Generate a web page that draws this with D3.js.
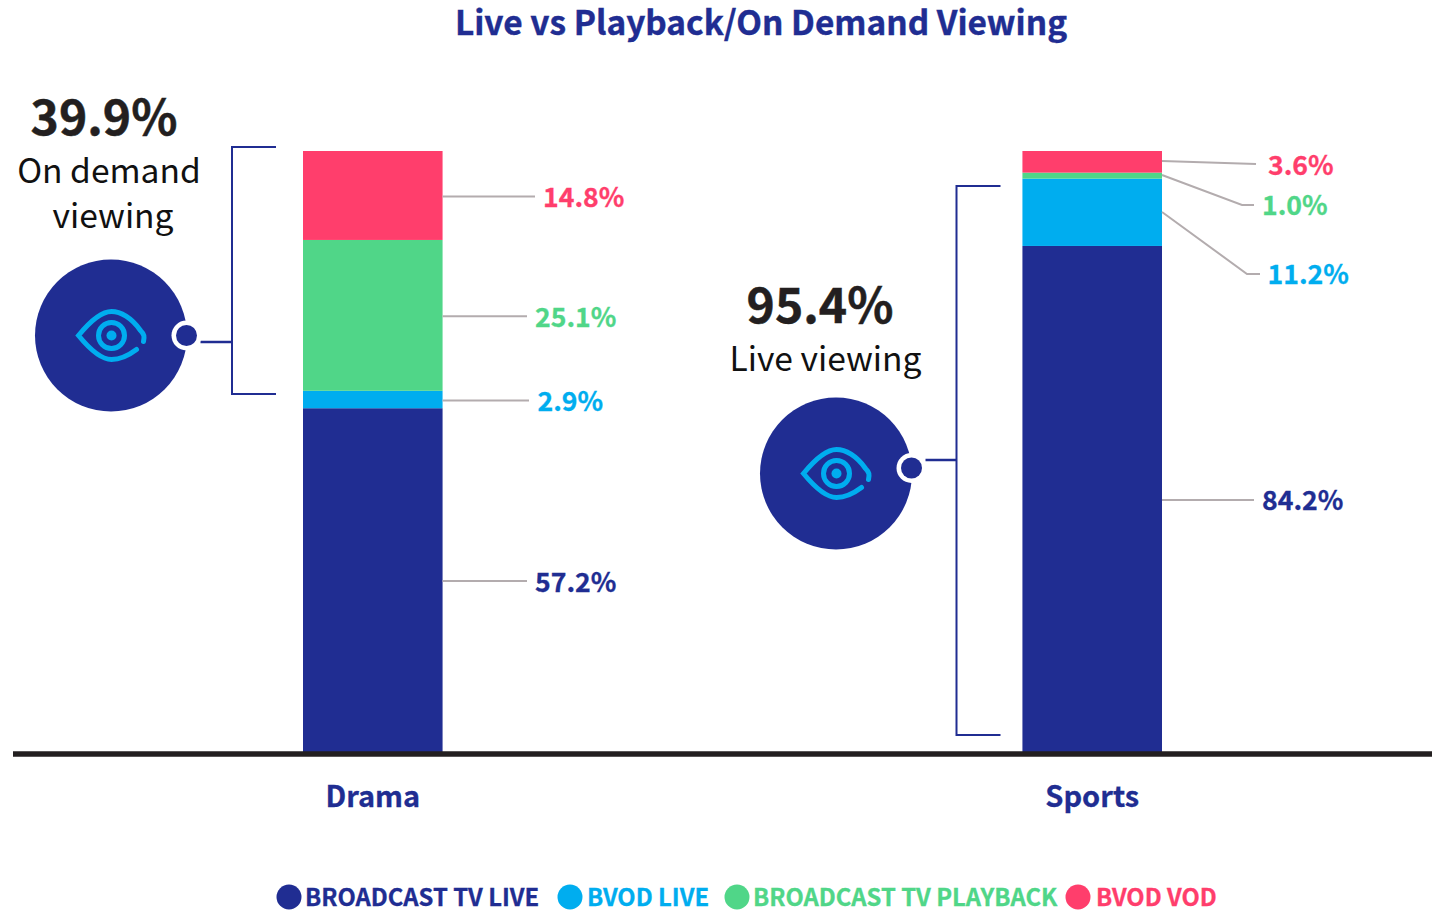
<!DOCTYPE html>
<html><head><meta charset="utf-8">
<script src="https://cdnjs.cloudflare.com/ajax/libs/d3/7.8.5/d3.min.js"></script>
<style>html,body{margin:0;padding:0;background:#fff}svg{display:block}text{font-family:"Noto Sans CJK SC","Noto Sans",sans-serif}</style>
</head><body><svg id="c" width="1432" height="910"></svg>
<script>
const categories = ["Drama","Sports"];
const seriesNames = ["BROADCAST TV LIVE","BVOD LIVE","BROADCAST TV PLAYBACK","BVOD VOD"];
const seriesColors = ["#202d92","#00adef","#50d688","#ff3e6c"];
const dramaValues = [57.2,2.9,25.1,14.8];
const sportsValues = [84.2,11.2,1.0,3.6];
const titleText = "Live vs Playback/On Demand Viewing";

const svg = d3.select("#c");
const navy = seriesColors[0];
const rows = categories.map((c,i)=>{
  const r = {category:c};
  const vals = i===0?dramaValues:sportsValues;
  seriesNames.forEach((s,j)=>r[s]=vals[j]);
  return r;
});
const x = d3.scaleBand().domain(categories).range([303,1162]).paddingInner(0.806).paddingOuter(0);
const y = d3.scaleLinear().domain([0,100]).range([752,151]);
const stacked = d3.stack().keys(seriesNames)(rows);

svg.append("text").attr("x",761).attr("y",35).attr("text-anchor","middle")
  .attr("font-size",33.4).attr("font-weight",700).attr("fill",navy).attr("stroke",navy).attr("stroke-width",0.4).text(titleText);

stacked.forEach((layer,j)=>{
  svg.append("g").selectAll("rect").data(layer).join("rect")
    .attr("x",d=>x(d.data.category)).attr("width",x.bandwidth())
    .attr("y",d=>y(d[1])).attr("height",d=>y(d[0])-y(d[1]))
    .attr("fill",seriesColors[j]);
});

const axis = d3.axisBottom(x).tickSize(0).tickPadding(32);
const axG = svg.append("g").attr("transform","translate(0,754)").call(axis);
axG.select(".domain").attr("d","M13,0H1432").attr("stroke","#231f20").attr("stroke-width",5.5);
axG.selectAll("text").attr("font-size",29).attr("font-weight",700).attr("fill",navy)
  .attr("stroke",navy).attr("stroke-width",0.3).attr("font-family",'"Noto Sans CJK SC"');

const leaderLayout = {
  Drama:[
    {end:527,lx:535},{end:529,lx:537.5},{end:527,lx:535},{end:535,lx:543}],
  Sports:[
    {end:1254,lx:1262},
    {sy:212,bend:[1247,274],end:1260,ey:274,lx:1267.5,ly:274},
    {sy:175,bend:[1242,205],end:1254,ey:205,lx:1262,ly:205},
    {sy:161,end:1256,ey:164,lx:1268,ly:165}]
};
const line = d3.line();
rows.forEach((r,ri)=>{
  const x1 = x(r.category)+x.bandwidth();
  stacked.forEach((layer,j)=>{
    const d = layer[ri];
    const mid = y((d[0]+d[1])/2)+1;
    const L = leaderLayout[r.category][j];
    const sy = L.sy ?? mid, ey = L.ey ?? mid;
    const pts = [[x1,sy]];
    if(L.bend) pts.push(L.bend);
    pts.push([L.end,ey]);
    svg.append("path").attr("d",line(pts)).attr("fill","none").attr("stroke","#b3acae").attr("stroke-width",2);
    svg.append("text").attr("x",L.lx).attr("y",(L.ly ?? mid+1)+9.5)
      .attr("font-size",26.6).attr("font-weight",700).attr("fill",seriesColors[j])
      .attr("stroke",seriesColors[j]).attr("stroke-width",0.3)
      .text(d3.format(".1f")(r[seriesNames[j]])+"%");
  });
});

function callout(o){
  svg.append("path").attr("d",`M${o.bx+44},${o.by0}H${o.bx}V${o.by1}H${o.bx+44}`)
    .attr("fill","none").attr("stroke",navy).attr("stroke-width",2);
  svg.append("path").attr("d",`M${o.dx+14},${o.cy0}H${o.bx}`).attr("stroke",navy).attr("stroke-width",2.5);
  svg.append("circle").attr("cx",o.cx).attr("cy",o.cy).attr("r",76).attr("fill",navy);
  svg.append("circle").attr("cx",o.dx).attr("cy",o.dy).attr("r",15).attr("fill","#fff");
  svg.append("circle").attr("cx",o.dx).attr("cy",o.dy).attr("r",10.5).attr("fill",navy);
  const g = svg.append("g").attr("transform",`translate(${o.cx+0.5},${o.cy})`);
  g.append("path").attr("d","M32,6C33,1 33,-1 29,-5C20,-18 9,-24 0,-24C-12,-24 -24,-11 -33,0C-24,11 -12,24 0,24C9,24 17,20 25,14")
    .attr("fill","none").attr("stroke","#00adef").attr("stroke-width",5).attr("stroke-linecap","round");
  g.append("circle").attr("r",13).attr("fill","none").attr("stroke","#00adef").attr("stroke-width",5);
  g.append("circle").attr("r",5).attr("fill","#00adef");
  svg.append("text").attr("x",o.px).attr("y",o.py).attr("text-anchor","middle")
    .attr("font-size",48).attr("font-weight",700).attr("fill","#231f20").attr("stroke","#231f20").attr("stroke-width",0.5).text(o.pct);
  o.lines.forEach(l=>svg.append("text").attr("x",l[0]).attr("y",l[1]).attr("text-anchor","middle")
    .attr("font-size",33.6).attr("fill","#111").text(l[2]));
}
callout({cx:111,cy:335.5,dx:186.5,dy:335.5,cy0:342,bx:232,by0:147,by1:394,px:104,py:135,pct:"39.9%",
  lines:[[109,183,"On demand"],[113,228,"viewing"]]});
callout({cx:836,cy:473.5,dx:911.5,dy:468,cy0:460,bx:956.5,by0:186,by1:735,px:820,py:322.5,pct:"95.4%",
  lines:[[825.5,371,"Live viewing"]]});

const legendX = [[289,305],[570,587],[737,753],[1078,1096]];
seriesNames.forEach((s,j)=>{
  svg.append("circle").attr("cx",legendX[j][0]).attr("cy",897).attr("r",12.5).attr("fill",seriesColors[j]);
  svg.append("text").attr("x",legendX[j][1]).attr("y",906).attr("font-size",23.8).attr("font-weight",700)
    .attr("fill",seriesColors[j]).attr("stroke",seriesColors[j]).attr("stroke-width",0.3).text(s);
});
</script></body></html>
